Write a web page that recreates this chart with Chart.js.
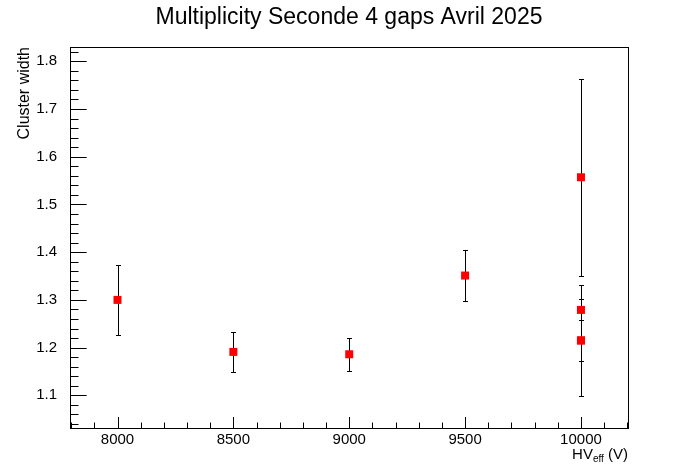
<!DOCTYPE html>
<html>
<head>
<meta charset="utf-8">
<script src="https://cdn.jsdelivr.net/npm/chart.js@4.4.1/dist/chart.umd.min.js"></script>
<style>
  html, body { margin: 0; padding: 0; background: #ffffff; }
  #wrap { width: 698px; height: 476px; }
</style>
</head>
<body>
<div id="wrap"><canvas id="myChart" width="698" height="476"></canvas></div>
<script>
// data
const hvEff = [8000, 8500, 9000, 9500, 10000, 10000, 10000, 10000];
const clusterWidth = [1.300, 1.191, 1.186, 1.351, 1.557, 1.279, 1.215, 1.215];
const clusterErr = [0.073, 0.042, 0.035, 0.053, 0.206, 0.022, 0.043, 0.117];

const xTickLabels = [8000, 8500, 9000, 9500, 10000];
const yTickLabels = [1.1, 1.2, 1.3, 1.4, 1.5, 1.6, 1.7, 1.8];

const FONT = "'Liberation Sans', Arial, Helvetica, sans-serif";

// ROOT style frame, inward ticks, error bars and titles
const rootStyle = {
    id: 'rootStyle',
    beforeDatasetsDraw(chart) {
        const ctx = chart.ctx;
        const xs = chart.scales.x, ys = chart.scales.y;
        ctx.save();
        ctx.strokeStyle = '#000';
        ctx.lineWidth = 1;
        ctx.beginPath();
        for (let i = 0; i < hvEff.length; i++) {
            const px = Math.round(xs.getPixelForValue(hvEff[i])) + 0.5;
            const top = Math.round(ys.getPixelForValue(clusterWidth[i] + clusterErr[i])) + 0.5;
            const bot = Math.round(ys.getPixelForValue(clusterWidth[i] - clusterErr[i])) + 0.5;
            ctx.moveTo(px, top); ctx.lineTo(px, bot);
            ctx.moveTo(px - 2.5, top); ctx.lineTo(px + 2.5, top);
            ctx.moveTo(px - 2.5, bot); ctx.lineTo(px + 2.5, bot);
        }
        ctx.stroke();
        ctx.restore();
    },
    afterDraw(chart) {
        const ctx = chart.ctx;
        const a = chart.chartArea;
        const xs = chart.scales.x, ys = chart.scales.y;
        ctx.save();
        ctx.strokeStyle = '#000';
        ctx.lineWidth = 1;
        ctx.strokeRect(Math.round(a.left) + 0.5, Math.round(a.top) + 0.5,
            Math.round(a.right - a.left), Math.round(a.bottom - a.top));

        ctx.beginPath();
        // x ticks every 100, major every 500
        for (let v = 7800; v <= 10200; v += 100) {
            if (v < xs.min || v > xs.max) continue;
            const px = Math.round(xs.getPixelForValue(v)) + 0.5;
            const len = v % 500 === 0 ? 11 : 5.5;
            ctx.moveTo(px, a.bottom); ctx.lineTo(px, a.bottom - len);
        }
        // y ticks every 0.02, major every 0.1
        for (let k = 50; k <= 92; k++) {
            const v = k * 0.02;
            if (v < ys.min || v > ys.max) continue;
            const py = Math.round(ys.getPixelForValue(v)) + 0.5;
            const len = k % 5 === 0 ? 16.7 : 8.5;
            ctx.moveTo(a.left, py); ctx.lineTo(a.left + len, py);
        }
        ctx.stroke();

        ctx.fillStyle = '#000';
        // main title
        ctx.font = '23px ' + FONT;
        ctx.textAlign = 'center';
        ctx.textBaseline = 'alphabetic';
        ctx.fillText('Multiplicity Seconde 4 gaps Avril 2025', 349, 24);

        // y title
        ctx.save();
        ctx.translate(29, a.top);
        ctx.rotate(-Math.PI / 2);
        ctx.font = '16px ' + FONT;
        ctx.textAlign = 'right';
        ctx.fillText('Cluster width', 0, 0);
        ctx.restore();

        // x title with subscript
        const base = 459;
        ctx.textAlign = 'left';
        ctx.font = '15px ' + FONT;
        const wHV = ctx.measureText('HV').width;
        const wV = ctx.measureText(' (V)').width;
        ctx.font = '10px ' + FONT;
        const wSub = ctx.measureText('eff').width;
        let x0 = a.right - (wHV + wSub + wV);
        ctx.font = '15px ' + FONT;
        ctx.fillText('HV', x0, base);
        ctx.font = '10px ' + FONT;
        ctx.fillText('eff', x0 + wHV, base + 3);
        ctx.font = '15px ' + FONT;
        ctx.fillText(' (V)', x0 + wHV + wSub, base);
        ctx.restore();
    }
};

function createChart() {
    const ctx = document.getElementById('myChart').getContext('2d');
    new Chart(ctx, {
        type: 'scatter',
        data: {
            datasets: [{
                label: 'Cluster width',
                data: hvEff.map((x, i) => ({ x: x, y: clusterWidth[i] })),
                backgroundColor: '#ff0000',
                borderWidth: 0,
                pointStyle: 'rect',
                pointRadius: 5.66,
                pointHoverRadius: 5.66
            }]
        },
        options: {
            responsive: false,
            animation: false,
            layout: { padding: { top: 47, right: 70, left: 0, bottom: 0 } },
            plugins: {
                legend: { display: false },
                tooltip: { enabled: false },
                title: { display: false }
            },
            scales: {
                x: {
                    type: 'linear',
                    min: 7795,
                    max: 10203,
                    grid: { display: false, drawTicks: false },
                    border: { display: false },
                    afterBuildTicks: s => { s.ticks = xTickLabels.map(v => ({ value: v })); },
                    afterFit: s => { s.height = 48; },
                    ticks: {
                        autoSkip: false,
                        maxRotation: 0,
                        padding: 3,
                        color: '#000',
                        font: { family: FONT, size: 15 },
                        callback: v => String(v)
                    }
                },
                y: {
                    type: 'linear',
                    min: 1.0315,
                    max: 1.830,
                    grid: { display: false, drawTicks: false },
                    border: { display: false },
                    afterBuildTicks: s => { s.ticks = yTickLabels.map(v => ({ value: v })); },
                    afterFit: s => { s.width = 70; },
                    ticks: {
                        padding: 13,
                        color: '#000',
                        font: { family: FONT, size: 15 },
                        callback: v => Number(v).toFixed(1)
                    }
                }
            }
        },
        plugins: [rootStyle]
    });
}

createChart();
</script>
</body>
</html>
